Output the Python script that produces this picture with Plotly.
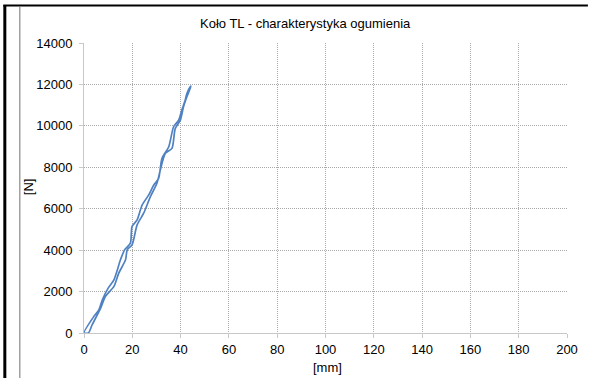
import plotly.graph_objects as go

# Tyre characteristic: deflection [mm] vs. load [N], loading and unloading branches
loading_mm = [0.0, 4.1, 6.2, 7.6, 10.0, 12.4, 15.1, 16.8, 19.2, 19.9, 22.0, 24.1, 26.8,
              28.9, 30.9, 32.3, 35.1, 37.1, 39.2, 40.5, 41.9, 42.6, 44.0]
loading_n = [0, 803, 1124, 1606, 2168, 2570, 3533, 4015, 4336, 5139, 5460, 6183, 6665,
             7147, 7468, 8432, 8994, 9957, 10278, 10760, 11242, 11563, 11884]

unloading_mm = [44.3, 42.6, 41.2, 39.9, 37.8, 36.4, 33.7, 31.6, 30.2, 27.5, 24.7, 22.0,
                19.9, 17.9, 17.2, 14.4, 12.4, 8.9, 6.9, 3.4, 1.8, 0.0]
unloading_n = [11916, 11403, 10921, 10278, 9877, 8913, 8672, 7869, 7227, 6585, 5782, 5220,
               4256, 4015, 3533, 2891, 2248, 1767, 1205, 401, 0, 0]

x_ticks = [0, 20, 40, 60, 80, 100, 120, 140, 160, 180, 200]
y_ticks = [0, 2000, 4000, 6000, 8000, 10000, 12000, 14000]

title_text = "Koło TL - charakterystyka ogumienia"
x_title = "[mm]"
y_title = "[N]"

W, H = 590, 378
L, R, T, B = 84, 21, 43, 45
pw, ph = W - L - R, H - T - B


def px_x(p):
    return (p - L) / pw


def px_y(p):
    return (H - B - p) / ph


FONT = "Liberation Sans, Arial, sans-serif"
TXT = dict(family=FONT, size=13, color="#000000")

fig = go.Figure()
fig.add_trace(go.Scatter(
    x=loading_mm + unloading_mm,
    y=loading_n + unloading_n,
    mode="lines",
    line=dict(color="#5082c2", width=1.7, shape="spline", smoothing=0.7),
    showlegend=False,
    hoverinfo="skip",
))

axis_common = dict(
    showgrid=True,
    gridcolor="#ababab",
    griddash="1px,1px",
    gridwidth=1,
    showline=True,
    linecolor="#c8c8c8",
    linewidth=1,
    ticks="outside",
    ticklen=4,
    tickcolor="#c8c8c8",
    tickfont=TXT,
    zeroline=False,
)

fig.update_xaxes(range=[0, 200], tickvals=x_ticks, ticktext=[str(v) for v in x_ticks],
                 **axis_common)
fig.update_yaxes(range=[0, 14000], tickvals=y_ticks, ticktext=[str(v) for v in y_ticks],
                 ticklabelstandoff=4, **axis_common)

# Frame lines of the surrounding table cell
shapes = [
    dict(type="line", xref="paper", yref="paper", x0=px_x(4.5), x1=px_x(4.5),
         y0=px_y(378), y1=px_y(5), line=dict(color="#000000", width=3)),
    dict(type="line", xref="paper", yref="paper", x0=px_x(3), x1=px_x(590),
         y0=px_y(5.5), y1=px_y(5.5), line=dict(color="#000000", width=2)),
    dict(type="line", xref="paper", yref="paper", x0=px_x(19.5), x1=px_x(19.5),
         y0=px_y(378), y1=px_y(7), line=dict(color="#a0a0a0", width=1.5)),
]

annotations = [
    dict(text=title_text, xref="paper", yref="paper", x=px_x(306), y=px_y(24),
         xanchor="center", yanchor="middle", showarrow=False,
         font=dict(family=FONT, size=13, color="#000000")),
    dict(text=x_title, xref="paper", yref="paper", x=px_x(329), y=px_y(367),
         xanchor="center", yanchor="middle", showarrow=False, font=TXT),
    dict(text=y_title, xref="paper", yref="paper", x=px_x(28), y=px_y(187),
         xanchor="center", yanchor="middle", showarrow=False, font=TXT, textangle=-90),
]

fig.update_layout(
    width=W, height=H,
    margin=dict(l=L, r=R, t=T, b=B),
    paper_bgcolor="#ffffff",
    plot_bgcolor="#ffffff",
    shapes=shapes,
    annotations=annotations,
)

fig.write_html("out.html")
